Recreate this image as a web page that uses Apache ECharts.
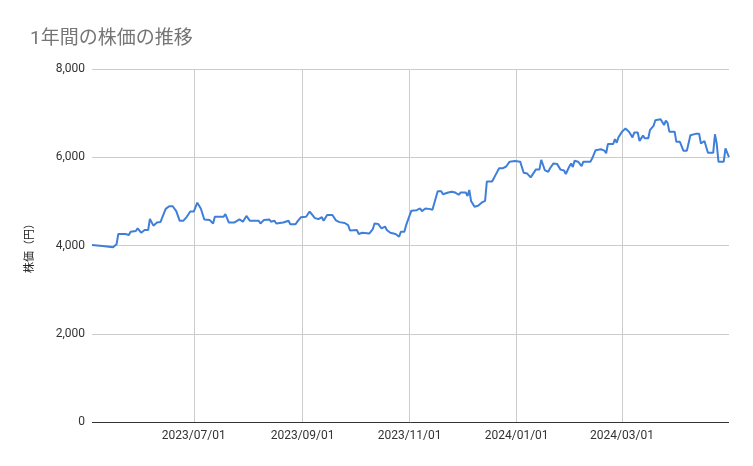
<!DOCTYPE html>
<html lang="ja">

<head>
	<meta charset="UTF-8">
	<title>1年間の株価の推移</title>
	<style>
		html, body { margin: 0; padding: 0; background: #fff; }
	</style>
</head>

<body>
	<div id="main" style="width: 753px;height:466px;"></div>
	<script src="https://cdn.jsdelivr.net/npm/echarts@6/dist/echarts.min.js"></script>
	<script>
		// 日付と終値
		var dates = [
			'2023-05-04', '2023-05-10', '2023-05-16', '2023-05-18', '2023-05-19', '2023-05-23', '2023-05-25', '2023-05-26', '2023-05-29', '2023-05-30',
			'2023-06-01', '2023-06-03', '2023-06-05', '2023-06-06', '2023-06-08', '2023-06-10', '2023-06-12', '2023-06-15', '2023-06-17', '2023-06-19',
			'2023-06-21', '2023-06-23', '2023-06-25', '2023-06-27', '2023-06-29', '2023-07-01', '2023-07-03', '2023-07-05', '2023-07-07', '2023-07-10',
			'2023-07-12', '2023-07-13', '2023-07-18', '2023-07-19', '2023-07-21', '2023-07-24', '2023-07-25', '2023-07-27', '2023-07-29', '2023-07-31',
			'2023-08-01', '2023-08-02', '2023-08-07', '2023-08-08', '2023-08-10', '2023-08-13', '2023-08-14', '2023-08-16', '2023-08-17', '2023-08-21',
			'2023-08-22', '2023-08-24', '2023-08-25', '2023-08-28', '2023-08-29', '2023-08-31', '2023-09-03', '2023-09-05', '2023-09-06', '2023-09-08',
			'2023-09-10', '2023-09-11', '2023-09-12', '2023-09-13', '2023-09-15', '2023-09-18', '2023-09-20', '2023-09-22', '2023-09-25', '2023-09-27',
			'2023-09-28', '2023-10-02', '2023-10-03', '2023-10-05', '2023-10-09', '2023-10-11', '2023-10-12', '2023-10-14', '2023-10-16', '2023-10-18',
			'2023-10-19', '2023-10-21', '2023-10-24', '2023-10-25', '2023-10-26', '2023-10-27', '2023-10-29', '2023-10-30', '2023-10-31', '2023-11-02',
			'2023-11-05', '2023-11-07', '2023-11-08', '2023-11-10', '2023-11-12', '2023-11-14', '2023-11-17', '2023-11-19', '2023-11-20', '2023-11-23',
			'2023-11-25', '2023-11-27', '2023-11-29', '2023-11-30', '2023-12-03', '2023-12-04', '2023-12-05', '2023-12-06', '2023-12-08', '2023-12-10',
			'2023-12-12', '2023-12-14', '2023-12-15', '2023-12-18', '2023-12-19', '2023-12-20', '2023-12-22', '2023-12-24', '2023-12-26', '2023-12-28',
			'2023-12-31', '2024-01-03', '2024-01-05', '2024-01-07', '2024-01-09', '2024-01-10', '2024-01-12', '2024-01-14', '2024-01-15', '2024-01-16',
			'2024-01-17', '2024-01-19', '2024-01-20', '2024-01-21', '2024-01-22', '2024-01-24', '2024-01-25', '2024-01-26', '2024-01-28', '2024-01-29',
			'2024-01-31', '2024-02-01', '2024-02-02', '2024-02-03', '2024-02-05', '2024-02-07', '2024-02-08', '2024-02-12', '2024-02-13', '2024-02-14',
			'2024-02-15', '2024-02-18', '2024-02-20', '2024-02-21', '2024-02-22', '2024-02-25', '2024-02-26', '2024-02-27', '2024-02-28', '2024-03-01',
			'2024-03-02', '2024-03-03', '2024-03-05', '2024-03-06', '2024-03-07', '2024-03-08', '2024-03-10', '2024-03-11', '2024-03-13', '2024-03-14',
			'2024-03-16', '2024-03-17', '2024-03-19', '2024-03-20', '2024-03-23', '2024-03-24', '2024-03-25', '2024-03-26', '2024-03-27', '2024-03-28',
			'2024-03-31', '2024-04-01', '2024-04-02', '2024-04-03', '2024-04-04', '2024-04-05', '2024-04-07', '2024-04-09', '2024-04-12', '2024-04-14',
			'2024-04-15', '2024-04-17', '2024-04-19', '2024-04-22', '2024-04-23', '2024-04-24', '2024-04-25', '2024-04-28', '2024-04-29', '2024-05-01'
		];
		var prices = [
			4010, 3990, 3960, 4030, 4260, 4260, 4240, 4310, 4330, 4390,
			4290, 4350, 4350, 4600, 4450, 4520, 4530, 4830, 4890, 4890,
			4780, 4560, 4560, 4650, 4770, 4770, 4970, 4840, 4590, 4580,
			4500, 4650, 4650, 4710, 4520, 4520, 4560, 4590, 4540, 4670,
			4650, 4560, 4560, 4500, 4580, 4590, 4540, 4560, 4500, 4520,
			4560, 4560, 4480, 4480, 4540, 4640, 4650, 4770, 4720, 4620,
			4600, 4570, 4640, 4560, 4690, 4690, 4570, 4530, 4510, 4460,
			4340, 4350, 4260, 4290, 4270, 4370, 4500, 4490, 4390, 4430,
			4350, 4290, 4260, 4290, 4200, 4310, 4310, 4460, 4500, 4790,
			4800, 4840, 4780, 4840, 4830, 4810, 5230, 5230, 5160, 5200,
			5220, 5200, 5150, 5200, 5200, 5120, 5260, 5010, 4880, 4900,
			4970, 5010, 5450, 5450, 5410, 5600, 5750, 5750, 5790, 5900,
			5915, 5900, 5650, 5630, 5545, 5580, 5725, 5725, 5940, 5830,
			5710, 5670, 5750, 5750, 5860, 5850, 5850, 5720, 5700, 5620,
			5790, 5860, 5780, 5920, 5900, 5800, 5900, 5900, 5970, 5940,
			6160, 6180, 6150, 6090, 6300, 6300, 6410, 6330, 6450, 6580,
			6600, 6650, 6580, 6580, 6450, 6560, 6560, 6370, 6490, 6430,
			6430, 6620, 6710, 6840, 6860, 6840, 6730, 6830, 6780, 6580,
			6580, 6350, 6310, 6350, 6250, 6150, 6150, 6500, 6530, 6530,
			6310, 6370, 6100, 6100, 6520, 6310, 5900, 5900, 6200, 6000
		];
		// x軸の目盛り（2か月ごと）
		var xTicks = ['2023-07-01', '2023-09-01', '2023-11-01', '2024-01-01', '2024-03-01'];
		var xMin = '2023-05-04';
		var xMax = '2024-05-01';

		// 'YYYY-MM-DD' -> ローカル時刻のミリ秒
		function toTime(s) {
			var p = s.split('-');
			return new Date(+p[0], +p[1] - 1, +p[2]).getTime();
		}

		function pad(n) {
			return n < 10 ? '0' + n : '' + n;
		}

		var seriesData = [];
		for (var i = 0; i < dates.length; i++) {
			seriesData.push([toTime(dates[i]), prices[i]]);
		}
		var tickTimes = xTicks.map(toTime);

		var myChart = echarts.init(document.getElementById('main'));
		var option = {
			backgroundColor: '#fff',
			animation: false,
			textStyle: {
				fontFamily: 'Roboto, "Noto Sans CJK JP", sans-serif'
			},
			title: {
				text: '1年間の株価の推移',
				left: 25,
				top: 25,
				textStyle: {
					color: '#757575',
					fontSize: 19,
					fontWeight: 'normal',
					fontFamily: 'Roboto, "Noto Sans CJK JP", sans-serif'
				}
			},
			grid: {
				left: 92,
				right: 24,
				top: 69,
				bottom: 44
			},
			xAxis: {
				type: 'value',
				min: toTime(xMin),
				max: toTime(xMax),
				axisLine: {
					show: false
				},
				axisTick: {
					show: false,
					customValues: tickTimes
				},
				axisLabel: {
					customValues: tickTimes,
					color: '#333',
					fontSize: 12,
					margin: 8,
					formatter: function (value) {
						var d = new Date(value);
						return d.getFullYear() + '/' + pad(d.getMonth() + 1) + '/' + pad(d.getDate());
					}
				},
				splitLine: {
					show: true,
					lineStyle: {
						color: '#cccccc',
						width: 1
					}
				}
			},
			yAxis: {
				type: 'value',
				min: 0,
				max: 8000,
				interval: 2000,
				name: '株価（円）',
				nameLocation: 'middle',
				nameGap: 56,
				nameTextStyle: {
					color: '#222',
					fontSize: 11
				},
				axisLine: {
					show: false
				},
				axisTick: {
					show: false
				},
				axisLabel: {
					color: '#333',
					fontSize: 12,
					margin: 7
				},
				splitLine: {
					lineStyle: {
						color: '#cccccc',
						width: 1
					}
				}
			},
			series: [{
				name: '株価',
				type: 'line',
				data: seriesData,
				showSymbol: false,
				lineStyle: {
					color: '#3f7fd8',
					width: 2
				},
				itemStyle: {
					color: '#3f7fd8'
				},
				markLine: {
					silent: true,
					symbol: 'none',
					label: { show: false },
					lineStyle: { color: '#333', type: 'solid', width: 1 },
					data: [{ yAxis: 0 }]
				}
			}]
		};
		myChart.setOption(option);
	</script>
</body>

</html>
